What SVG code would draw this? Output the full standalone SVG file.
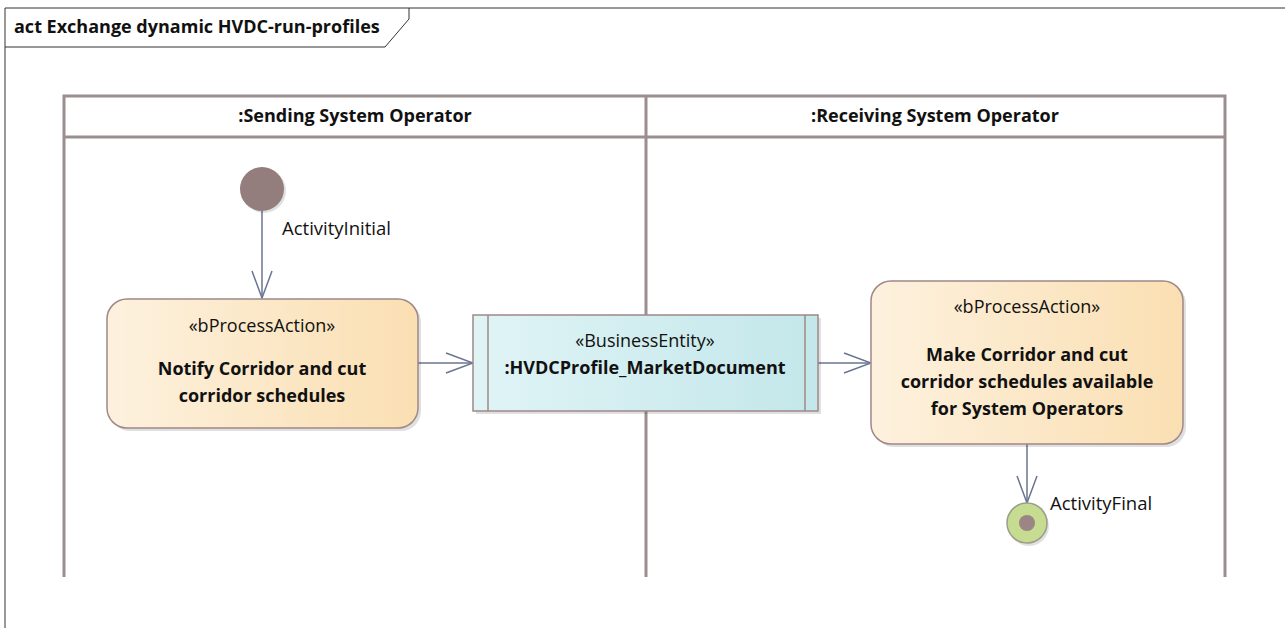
<svg xmlns="http://www.w3.org/2000/svg" width="1285" height="628" viewBox="0 0 1285 628">
<style>
text{font-family:"Open Sans","Liberation Sans",sans-serif;fill:#111;font-size:18px}
.b{font-weight:bold}
.m{text-anchor:middle}
.lane{fill:none;stroke:#9c8e8e;stroke-width:3}
.conn{fill:none;stroke:#6a7591;stroke-width:1.5}
.act{stroke:#a08888;stroke-width:1.5}
.sh{fill:#000;opacity:0.12}
</style>
<defs>
<linearGradient id="ga" x1="0" y1="0" x2="1" y2="0">
<stop offset="0" stop-color="#fdf1de"/><stop offset="1" stop-color="#fadfb2"/>
</linearGradient>
<linearGradient id="gb" x1="0" y1="0" x2="1" y2="0">
<stop offset="0" stop-color="#e0f4f6"/><stop offset="1" stop-color="#c3e7ea"/>
</linearGradient>
<marker id="arr" markerWidth="30" markerHeight="24" refX="28" refY="11" orient="auto" markerUnits="userSpaceOnUse">
<path d="M1,1 L28,11 L1,21" fill="none" stroke="#6a7591" stroke-width="1.5"/>
</marker>
</defs>
<rect width="1285" height="628" fill="#fff"/>
<g id="frame">
<path d="M5,628 V8 H1285" fill="none" stroke="#333" stroke-width="1"/>
<path d="M5,47 H385 L409,19 V8" fill="none" stroke="#333" stroke-width="1"/>
<text x="14" y="33" class="b">act Exchange dynamic HVDC-run-profiles</text>
</g>
<g id="lanes">
<path class="lane" d="M64,577 V96 H1225 V577 M64,137 H1225 M646,96 V577"/>
<text x="355" y="122" class="b m">:Sending System Operator</text>
<text x="935" y="122" class="b m">:Receiving System Operator</text>
</g>
<g id="connectors">
<path class="conn" d="M262,211 V298" marker-end="url(#arr)"/>
<path class="conn" d="M418,363 H473" marker-end="url(#arr)"/>
<path class="conn" d="M818,363 H871" marker-end="url(#arr)"/>
<path class="conn" d="M1027,444 V503" marker-end="url(#arr)"/>
</g>
<g id="initial">
<circle cx="264" cy="191" r="22" class="sh"/>
<circle cx="262" cy="189" r="22" fill="#937d7d"/>
<text x="282" y="235" style="font-size:18.5px">ActivityInitial</text>
</g>
<g id="action1">
<rect x="110" y="302" width="311" height="129" rx="20" class="sh"/>
<rect x="107" y="299" width="311" height="129" rx="20" fill="url(#ga)" class="act"/>
<text x="262" y="332" class="m">«bProcessAction»</text>
<text x="262" y="375" class="b m">Notify Corridor and cut</text>
<text x="262" y="402" class="b m">corridor schedules</text>
</g>
<g id="object">
<rect x="476" y="318" width="345" height="96" class="sh"/>
<rect x="473" y="315" width="345" height="96" fill="url(#gb)" stroke="#a08888" stroke-width="1.5"/>
<path d="M488,315 V411 M805,315 V411" stroke="#a08888" stroke-width="1.5"/>
<text x="645" y="347" class="m">«BusinessEntity»</text>
<text x="645" y="374" class="b m">:HVDCProfile_MarketDocument</text>
</g>
<g id="action2">
<rect x="874" y="284" width="312" height="163" rx="20" class="sh"/>
<rect x="871" y="281" width="312" height="163" rx="20" fill="url(#ga)" class="act"/>
<text x="1027" y="313" class="m">«bProcessAction»</text>
<text x="1027" y="361" class="b m">Make Corridor and cut</text>
<text x="1027" y="388" class="b m">corridor schedules available</text>
<text x="1027" y="415" class="b m">for System Operators</text>
</g>
<g id="final">
<circle cx="1029" cy="526" r="20" class="sh"/>
<circle cx="1027" cy="523" r="20" fill="#c6dd91" stroke="#9c9c8c" stroke-width="1.5"/>
<circle cx="1027" cy="523" r="8" fill="#9b8585"/>
<text x="1050" y="510" style="font-size:18.5px">ActivityFinal</text>
</g>
</svg>
